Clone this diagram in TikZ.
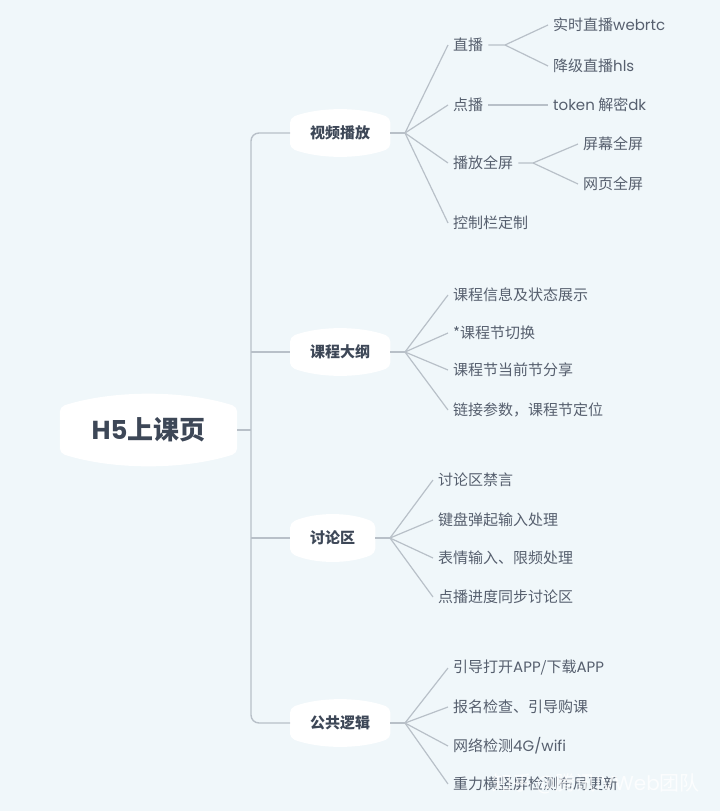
\documentclass[tikz,border=0pt]{standalone}
\usepackage{fontspec}
\setmainfont{Noto Sans CJK SC}
\newfontfamily\lat{Poppins}
\usetikzlibrary{calc}
\usetikzlibrary{backgrounds}
\definecolor{bgblue}{HTML}{F0F7FA}
\definecolor{lgray}{HTML}{B8C0C8}
\definecolor{ink}{HTML}{3D4757}
\definecolor{leafink}{HTML}{565F6E}
\tikzset{leaf/.style = {anchor=west, inner xsep=5, inner ysep=1, text=leafink,
                        font=\fontsize{15}{18}\selectfont}}
\tikzset{topic/.style = {anchor=west, inner xsep=20, inner ysep=0, minimum height=30,
                         text=ink, font=\fontsize{15}{18}\selectfont\bfseries}}
\tikzset{branch/.style = {draw=lgray, line width=1.2}}
\newcommand{\bubble}[2]{%
  \fill[white, rounded corners=5] (#1.south west) -- (#1.north west)
    .. controls ($(#1.north west)!0.3!(#1.north east)+(0,-#2)$)
       and ($(#1.north west)!0.7!(#1.north east)+(0,-#2)$) .. (#1.north east)
    -- (#1.south east)
    .. controls ($(#1.south east)!0.3!(#1.south west)+(0,#2)$)
       and ($(#1.south east)!0.7!(#1.south west)+(0,#2)$) .. (#1.south west) -- cycle;}

\begin{document}
\begin{tikzpicture}[x=1pt, y=-1pt]
    \useasboundingbox (0, 0) rectangle (720, 811);

    % root and main topics
    \node [inner sep=0, minimum width=177, minimum height=46, text=ink,
           font=\fontsize{26}{30}\selectfont\bfseries] (root) at (148.5, 430) {{\lat H5}上课页};
    \node [topic] (video) at (290, 133) {视频播放};
    \node [topic] (outline) at (290, 352) {课程大纲};
    \node [topic] (talk) at (290, 538) {讨论区};
    \node [topic] (logic) at (290, 723) {公共逻辑};

    \begin{scope}[on background layer]
      \fill [bgblue] (0, 0) rectangle (720, 811);
      \bubble{root}{17}
      \foreach \t in {video, outline, talk, logic} {\bubble{\t}{11}}
    \end{scope}

    \coordinate (tk) at (251, 430);
    \draw [branch, line width=1.4, rounded corners=8] (video.west) -| (tk) |- (logic.west);
    \draw [branch, line width=1.4] (root.east) -- (tk);
    \draw [branch, line width=1.4] (tk |- outline.west) -- (outline.west);
    \draw [branch, line width=1.4] (tk |- talk.west) -- (talk.west);

    % video
    \node [leaf] (live) at (448, 45) {直播};
    \node [leaf] (vod) at (448, 105) {点播};
    \node [leaf] (full) at (448, 163) {播放全屏};
    \node [leaf] (ctrl) at (448, 223) {控制栏定制};
    \node [leaf] (rtc) at (548, 25) {实时直播{\lat webrtc}};
    \node [leaf] (hls) at (548, 66) {降级直播{\lat hls}};
    \node [leaf] (tok) at (548, 105) {{\lat token} 解密{\lat dk}};
    \node [leaf] (scr) at (578, 144) {屏幕全屏};
    \node [leaf] (web) at (578, 184) {网页全屏};

    \coordinate (vf) at (405, 133);
    \draw [branch] (video.east) -- (vf);
    \foreach \n in {live, vod, full, ctrl}
      \draw [branch] (vf) -- (\n.west);
    \coordinate (lf) at (505, 45);
    \draw [branch] (live.east) -- (lf) -- (rtc.west);
    \draw [branch] (lf) -- (hls.west);
    \draw [branch] (vod.east) -- (tok.west);
    \coordinate (ff) at (533, 163);
    \draw [branch] (full.east) -- (ff) -- (scr.west);
    \draw [branch] (ff) -- (web.west);

    % outline
    \node [leaf] (info) at (448, 295) {课程信息及状态展示};
    \node [leaf] (swap) at (448, 333) {*课程节切换};
    \node [leaf] (share) at (448, 370) {课程节当前节分享};
    \node [leaf] (link) at (448, 410) {链接参数，课程节定位};
    \coordinate (of) at (405, 352);
    \draw [branch] (outline.east) -- (of);
    \foreach \n in {info, swap, share, link}
      \draw [branch] (of) -- (\n.west);

    % talk
    \node [leaf] (mute) at (433, 480) {讨论区禁言};
    \node [leaf] (keys) at (433, 520) {键盘弹起输入处理};
    \node [leaf] (emo) at (433, 558) {表情输入、限频处理};
    \node [leaf] (sync) at (433, 597) {点播进度同步讨论区};
    \coordinate (tf) at (390, 538);
    \draw [branch] (talk.east) -- (tf);
    \foreach \n in {mute, keys, emo, sync}
      \draw [branch] (tf) -- (\n.west);

    % logic
    \node [leaf] (app) at (448, 668) {引导打开{\lat APP}/下载{\lat APP}};
    \node [leaf] (buy) at (448, 707) {报名检查、引导购课};
    \node [leaf] (net) at (448, 746) {网络检测{\lat 4G/wifi}};
    \node [leaf] (rot) at (448, 784) {重力横竖屏检测布局更新};
    \coordinate (lg) at (405, 723);
    \draw [branch] (logic.east) -- (lg);
    \foreach \n in {app, buy, net, rot}
      \draw [branch] (lg) -- (\n.west);

    \node [text=white, opacity=0.8, inner sep=0, anchor=east,
           font=\fontsize{20}{24}\selectfont] (mark) at (700, 784) {知乎 @腾讯{\lat IVWeb}团队};
\end{tikzpicture}
\end{document}
